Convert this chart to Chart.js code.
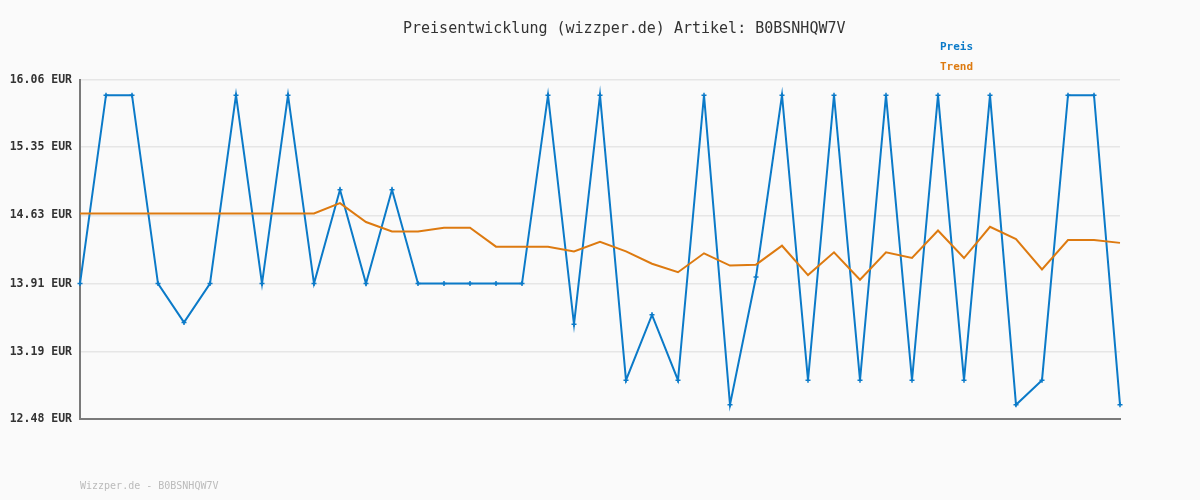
<!DOCTYPE html>
<html>
<head>
<meta charset="utf-8">
<script src="https://cdn.jsdelivr.net/npm/chart.js@4/dist/chart.umd.min.js"></script>
<style>
  body { margin: 0; background: #fafafa; }
  #wrap { position: relative; width: 1200px; height: 500px; }
  .txt { position: absolute; font-family: "DejaVu Sans Mono", monospace; white-space: nowrap; }
  #title { left: 403px; top: 19px; font-size: 15px; color: #333; }
  #legPreis { left: 940px; top: 40px; font-size: 11px; font-weight: bold; color: #0b7ac8; }
  #legTrend { left: 940px; top: 60px; font-size: 11px; font-weight: bold; color: #dd7a10; }
  #footer { left: 80px; top: 480px; font-size: 10px; color: #bbb; }
</style>
</head>
<body>
<div id="wrap">
  <canvas id="myChart" width="1200" height="500"></canvas>
  <div class="txt" id="title">Preisentwicklung (wizzper.de) Artikel: B0BSNHQW7V</div>
  <div class="txt" id="legPreis">Preis</div>
  <div class="txt" id="legTrend">Trend</div>
  <div class="txt" id="footer">Wizzper.de - B0BSNHQW7V</div>
</div>
<script>
// Price values per day
var preis = [13.91, 15.90, 15.90, 13.91, 13.50, 13.91, 15.90, 13.91, 15.90, 13.91,
             14.90, 13.91, 14.90, 13.91, 13.91, 13.91, 13.91, 13.91, 15.90, 13.48,
             15.90, 12.89, 13.58, 12.89, 15.90, 12.63, 13.98, 15.90, 12.89, 15.90,
             12.89, 15.90, 12.89, 15.90, 12.89, 15.90, 12.63, 12.89, 15.90, 15.90,
             12.63];

// Trend values
var trend = [14.65, 14.65, 14.65, 14.65, 14.65, 14.65, 14.65, 14.65, 14.65, 14.65,
             14.76, 14.56, 14.46, 14.46, 14.50, 14.50, 14.30, 14.30, 14.30, 14.25,
             14.35, 14.25, 14.12, 14.03, 14.23, 14.10, 14.11, 14.31, 14.00, 14.24,
             13.95, 14.24, 14.18, 14.47, 14.18, 14.51, 14.38, 14.06, 14.37, 14.37,
             14.34];

// y axis ticks
var yTicks = [12.48, 13.19, 13.91, 14.63, 15.35, 16.06];

var labels = [];
for (var i = 0; i < preis.length; i++) {
    labels.push(String(i + 1));
}

var ctx = document.getElementById('myChart').getContext('2d');
var myChart = new Chart(ctx, {
    type: 'line',
    data: {
        labels: labels,
        datasets: [
            {
                label: 'Trend',
                data: trend,
                borderColor: '#dd7a10',
                borderWidth: 2,
                pointRadius: 0,
                tension: 0
            },
            {
                label: 'Preis',
                data: preis,
                borderColor: '#0b7ac8',
                backgroundColor: '#0b7ac8',
                borderWidth: 2,
                pointStyle: 'cross',
                pointRadius: 2.5,
                pointBorderWidth: 1.5,
                tension: 0
            }
        ]
    },
    options: {
        responsive: false,
        animation: false,
        layout: { padding: { left: 0, top: 80, right: 80, bottom: 81 } },
        plugins: {
            legend: { display: false },
            title: { display: false },
            tooltip: { enabled: false }
        },
        scales: {
            x: {
                offset: false,
                grid: { display: false, drawTicks: false },
                ticks: { display: false },
                border: { display: true, color: '#7a7a7a', width: 2 },
                afterFit: function(scale) { scale.height = 0; }
            },
            y: {
                min: 12.48,
                max: 16.06,
                afterBuildTicks: function(scale) {
                    scale.ticks = yTicks.map(function(v) { return { value: v }; });
                },
                afterFit: function(scale) { scale.width = 80; },
                grid: { color: '#e6e6e6', lineWidth: 1.5, drawTicks: false },
                border: { display: true, color: '#7a7a7a', width: 2 },
                ticks: {
                    padding: 8,
                    color: '#333',
                    font: { family: 'DejaVu Sans Mono', size: 11.5, weight: 'bold' },
                    callback: function(v) { return Number(v).toFixed(2) + ' EUR'; }
                }
            }
        }
    }
});
</script>
</body>
</html>
